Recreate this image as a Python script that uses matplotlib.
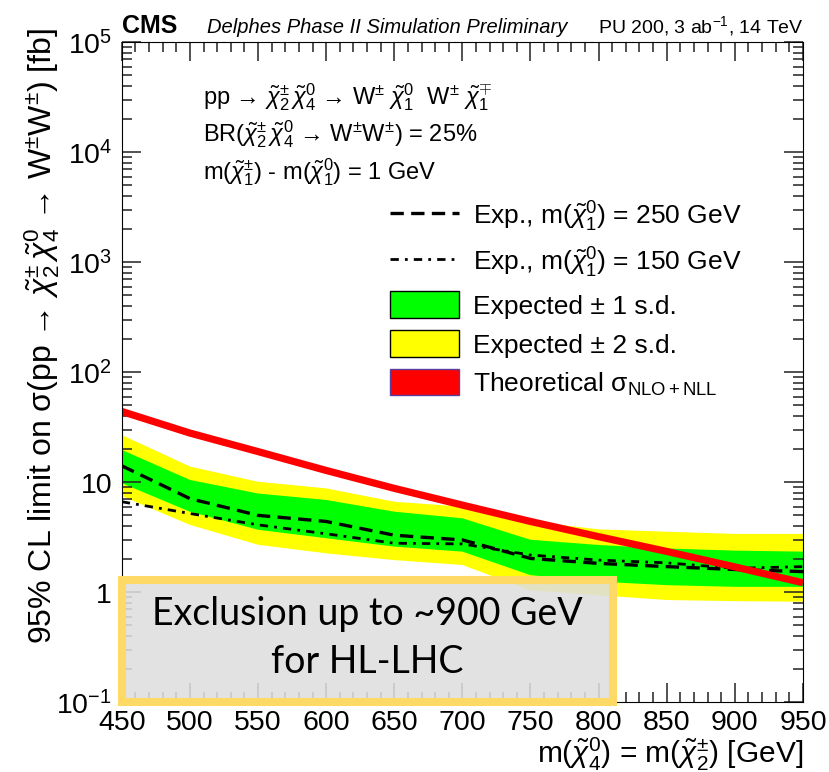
import numpy as np
import matplotlib
matplotlib.use("Agg")
from matplotlib import pyplot as plt
from matplotlib.lines import Line2D
from matplotlib.patches import Patch, Rectangle
from matplotlib.ticker import LogLocator, MultipleLocator, FuncFormatter, NullFormatter

plt.rcParams["font.family"] = ["Liberation Sans", "DejaVu Sans"]
plt.rcParams["mathtext.fontset"] = "custom"
plt.rcParams["mathtext.rm"] = "Liberation Sans"
plt.rcParams["mathtext.it"] = "Liberation Sans:italic"
plt.rcParams["mathtext.bf"] = "Liberation Sans:bold"

# chargino/neutralino mass points [GeV]
mass = [450, 500, 550, 600, 650, 700, 750, 800, 850, 900, 950]

# expected limits [fb]
exp_250 = [14.1, 7.1, 5.0, 4.4, 3.3, 2.99, 2.03, 1.83, 1.71, 1.61, 1.54]
exp_150 = [6.65, 5.2, 4.1, 3.4, 2.79, 2.75, 2.18, 1.96, 1.85, 1.65, 1.71]
band1_up = [19.7, 10.5, 7.9, 6.9, 5.4, 4.7, 3.0, 2.69, 2.5, 2.39, 2.34]
band1_dn = [9.8, 5.4, 3.7, 3.1, 2.6, 2.34, 1.43, 1.25, 1.16, 1.12, 1.12]
band2_up = [26.9, 13.9, 10.1, 8.8, 6.65, 6.0, 4.4, 3.73, 3.55, 3.39, 3.39]
band2_dn = [7.5, 4.1, 2.7, 2.26, 1.96, 1.77, 1.04, 0.94, 0.85, 0.83, 0.82]

# theory cross section [fb]
theory = [44.0, 28.0, 19.0, 12.8, 8.8, 6.2, 4.4, 3.2, 2.35, 1.7, 1.22]

W, H = 829, 772
fig = plt.figure(figsize=(8.295, 7.725), dpi=100)
ax = fig.add_axes([121.7 / W, 1 - 702.3 / H, 680.8 / W, 659.6 / H])

dash = (0, (4.0, 2.2))
dashdot = (0, (3.0, 2.2, 1.0, 2.2))

ax.plot(mass, theory, color="#ff0000", lw=5.2, solid_capstyle="butt")
ax.set_yscale("log")
ax.set_xlim(450, 950)
ax.set_ylim(0.1, 1e5)
ax.xaxis.set_major_locator(MultipleLocator(50))
ax.xaxis.set_minor_locator(MultipleLocator(10))
# ROOT-like ticks on all four sides, pointing inwards
ax.tick_params(which="both", direction="in", top=True, right=True, width=1.1, color="#222222")
ax.tick_params(which="major", length=13.5)
ax.tick_params(which="minor", length=7)

ax.fill_between(mass, band2_dn, band2_up, facecolor="#ffff00", edgecolor="none", zorder=0.5)
ax.fill_between(mass, band1_dn, band1_up, facecolor="#00ff00", edgecolor="none", zorder=0.6)
ax.plot(mass, exp_250, color="k", lw=2.4, ls=dash, zorder=0.8)
ax.plot(mass, exp_150, color="k", lw=2.0, ls=dashdot, zorder=0.8)

ax.yaxis.set_major_locator(LogLocator(base=10, numticks=10))
ax.yaxis.set_minor_locator(LogLocator(base=10, subs=np.arange(2, 10), numticks=20))
ax.yaxis.set_minor_formatter(NullFormatter())


def ylab(v, pos):
    e = int(round(np.log10(v)))
    if e == 0:
        return "1"
    if e == 1:
        return "10"
    return r"$10^{%d}$" % e


ax.yaxis.set_major_formatter(FuncFormatter(ylab))
for lab in ax.get_xticklabels() + ax.get_yticklabels():
    lab.set_fontsize(20.5)
ax.tick_params(axis="x", pad=5)
ax.tick_params(axis="y", pad=7)

# header
fig.text(121.7 / W, 1 - 33 / H, "CMS", fontsize=18, fontweight="bold", va="baseline")
fig.text(207 / W, 1 - 33 / H, "Delphes Phase II Simulation Preliminary",
         fontsize=14.5, style="italic", va="baseline")
fig.text(803 / W, 1 - 33 / H, r"PU 200, 3 ab$^{-1}$, 14 TeV", fontsize=14,
         ha="right", va="baseline")

# axis titles
fig.text(42 / W, 1 - 28 / H,
         r"95% CL limit on σ(pp → $\tilde{\chi}^{\pm}_{2}\,\tilde{\chi}^{0}_{4}$ → W$^{\pm}$W$^{\pm}$) [fb]",
         rotation=90, ha="center", va="top", fontsize=23)
fig.text(803 / W, 1 - 763 / H, r"m($\tilde{\chi}^{0}_{4}$) = m($\tilde{\chi}^{\pm}_{2}$) [GeV]",
         ha="right", va="baseline", fontsize=21.5)

# process description
info = [
    r"pp → $\tilde{\chi}^{\pm}_{2}\,\tilde{\chi}^{0}_{4}$ → W$^{\pm}$ $\tilde{\chi}^{0}_{1}$  W$^{\pm}$ $\tilde{\chi}^{\mp}_{1}$",
    r"BR($\tilde{\chi}^{\pm}_{2}\,\tilde{\chi}^{0}_{4}$ → W$^{\pm}$W$^{\pm}$) = 25%",
    r"m($\tilde{\chi}^{\pm}_{1}$) - m($\tilde{\chi}^{0}_{1}$) = 1 GeV",
]
for t, yp in zip(info, [97, 134, 172]):
    fig.text(203 / W, 1 - yp / H, t, fontsize=17, va="center")

handles = [
    Line2D([], [], color="k", lw=2.4, ls=dash),
    Line2D([], [], color="k", lw=2.0, ls=dashdot),
    Patch(facecolor="#00ff00", edgecolor="k", lw=1.0),
    Patch(facecolor="#ffff00", edgecolor="k", lw=1.0),
    Patch(facecolor="#ff0000", edgecolor="#5b3fa0", lw=1.0),
]
labels = [
    r"Exp., m($\tilde{\chi}^{0}_{1}$) = 250 GeV",
    r"Exp., m($\tilde{\chi}^{0}_{1}$) = 150 GeV",
    "Expected ± 1 s.d.",
    "Expected ± 2 s.d.",
    r"Theoretical $\mathrm{\sigma}_{\mathrm{NLO+NLL}}$",
]
ax.legend(handles, labels, loc="upper left", bbox_to_anchor=(0.394, 0.762),
          frameon=False, fontsize=19, handlelength=2.6, handleheight=1.15,
          handletextpad=0.55, labelspacing=0.45, borderpad=0, borderaxespad=0)

# highlighted statement box
ax.add_patch(Rectangle((122 / W, 1 - 702 / H), 491 / W, 122 / H, transform=fig.transFigure,
                       facecolor="#dedede", edgecolor="none", alpha=0.88,
                       zorder=10, clip_on=False))
ax.add_patch(Rectangle((122 / W, 1 - 702 / H), 491 / W, 122 / H, transform=fig.transFigure,
                       facecolor="none", edgecolor="#ffd966", lw=5.8,
                       zorder=11, clip_on=False))
fig.text(367 / W, 1 - 614 / H, "Exclusion up to ~900 GeV", fontsize=27,
         family="Lato", ha="center", va="center", zorder=12)
fig.text(367 / W, 1 - 662 / H, "for HL-LHC", fontsize=27,
         family="Lato", ha="center", va="center", zorder=12)

fig.savefig("out.png", dpi=100)
